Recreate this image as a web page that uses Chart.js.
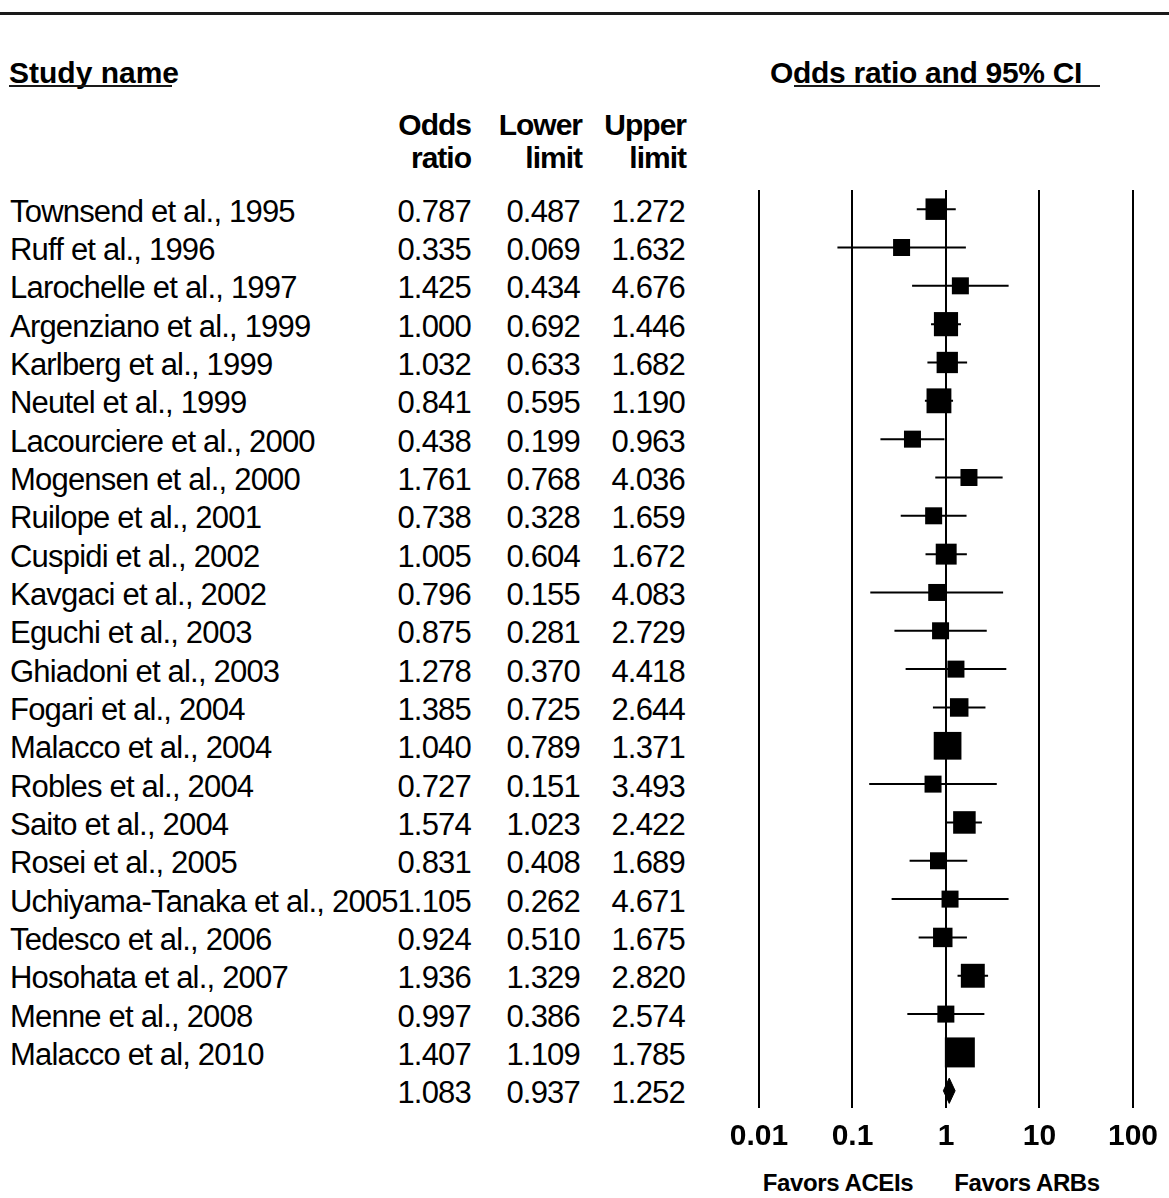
<!DOCTYPE html>
<html>
<head>
<meta charset="utf-8">
<title>Forest plot: ACEIs vs ARBs</title>
<script src="https://cdn.jsdelivr.net/npm/chart.js@4.4.1/dist/chart.umd.min.js"></script>
<style>
    html, body { margin: 0; padding: 0; background: #fff; }
    body { width: 1169px; height: 1198px; position: relative; overflow: hidden;
           font-family: "Liberation Sans", Arial, sans-serif; color: #000; }
    #plot { position: absolute; left: 0; top: 0; }
    .rule { position: absolute; background: #1a1a1a; }
    .txt { position: absolute; white-space: nowrap; }
    .head { font-weight: bold; font-size: 30px; line-height: 33px; }
    .cell { position: absolute; width: 110px; text-align: right; }
    .row { position: absolute; left: 0; width: 720px; height: 38px;
           font-size: 31px; line-height: 38px; letter-spacing: -0.8px; }
    .row .name { position: absolute; left: 10px; white-space: nowrap; }
    .favor { font-weight: bold; font-size: 24px; line-height: 28px; letter-spacing: -0.4px;
             width: 200px; text-align: center; }
</style>
</head>
<body>
<div class="rule" style="left:0; top:12px; width:1169px; height:3px;"></div>

<div class="txt head" style="left:9px; top:56px;">Study name</div>
<div class="rule" style="left:9px; top:85px; width:163px; height:2px;"></div>
<div class="txt head" style="left:770px; top:56px; letter-spacing:-0.3px;">Odds ratio and 95% CI</div>
<div class="rule" style="left:794px; top:85px; width:306px; height:2px;"></div>

<div class="txt head" style="left:0; top:108px; width:720px; height:70px; letter-spacing:-1px;">
    <div class="cell" style="left:361px;">Odds<br>ratio</div>
    <div class="cell" style="left:472px;">Lower<br>limit</div>
    <div class="cell" style="left:576px;">Upper<br>limit</div>
</div>

<div id="rows"></div>

<div class="txt favor" style="left:738px; top:1169px;">Favors ACEIs</div>
<div class="txt favor" style="left:927px; top:1169px;">Favors ARBs</div>

<canvas id="plot" width="1169" height="1198"></canvas>

<script>
// Forest plot data

const studies = [
    'Townsend et al., 1995', 'Ruff et al., 1996', 'Larochelle et al., 1997',
    'Argenziano et al., 1999', 'Karlberg et al., 1999', 'Neutel et al., 1999',
    'Lacourciere et al., 2000', 'Mogensen et al., 2000', 'Ruilope et al., 2001',
    'Cuspidi et al., 2002', 'Kavgaci et al., 2002', 'Eguchi et al., 2003',
    'Ghiadoni et al., 2003', 'Fogari et al., 2004', 'Malacco et al., 2004',
    'Robles et al., 2004', 'Saito et al., 2004', 'Rosei et al., 2005',
    'Uchiyama-Tanaka et al., 2005', 'Tedesco et al., 2006', 'Hosohata et al., 2007',
    'Menne et al., 2008', 'Malacco et al, 2010'
];
const oddsRatio = [0.787, 0.335, 1.425, 1.000, 1.032, 0.841, 0.438, 1.761, 0.738, 1.005, 0.796, 0.875,
                   1.278, 1.385, 1.040, 0.727, 1.574, 0.831, 1.105, 0.924, 1.936, 0.997, 1.407];
const lowerLimit = [0.487, 0.069, 0.434, 0.692, 0.633, 0.595, 0.199, 0.768, 0.328, 0.604, 0.155, 0.281,
                    0.370, 0.725, 0.789, 0.151, 1.023, 0.408, 0.262, 0.510, 1.329, 0.386, 1.109];
const upperLimit = [1.272, 1.632, 4.676, 1.446, 1.682, 1.190, 0.963, 4.036, 1.659, 1.672, 4.083, 2.729,
                    4.418, 2.644, 1.371, 3.493, 2.422, 1.689, 4.671, 1.675, 2.820, 2.574, 1.785];
// relative weights
const weights = [16.7, 1.5, 2.7, 28.3, 16.1, 32.0, 6.2, 5.6, 5.9, 14.8, 1.4, 3.0,
                 2.5, 9.2, 50.3, 1.6, 20.7, 7.6, 1.9, 10.9, 27.1, 4.3, 67.8];

const summaryOR = 1.083;
const summaryLower = 0.937;
const summaryUpper = 1.252;

const tickValues = [0.01, 0.1, 1, 10, 100];
const tickLabels = ['0.01', '0.1', '1', '10', '100'];

// build the text table
const rowsDiv = document.getElementById('rows');
const rowEls = [];

function addRow(name, or, lo, hi) {
    const row = document.createElement('div');
    row.className = 'row';
    row.innerHTML =
        `<span class="name">${name}</span>` +
        `<span class="cell" style="left:361px;">${or.toFixed(3)}</span>` +
        `<span class="cell" style="left:470px;">${lo.toFixed(3)}</span>` +
        `<span class="cell" style="left:575px;">${hi.toFixed(3)}</span>`;
    rowsDiv.appendChild(row);
    rowEls.push(row);
}

studies.forEach((s, i) => addRow(s, oddsRatio[i], lowerLimit[i], upperLimit[i]));
addRow('', summaryOR, summaryLower, summaryUpper);

// CI segments, broken with null points
const ciData = [];
studies.forEach((s, i) => {
    ciData.push({ x: lowerLimit[i], y: i });
    ciData.push({ x: upperLimit[i], y: i });
    ciData.push({ x: upperLimit[i], y: null });
});

const boxData = studies.map((s, i) => ({ x: oddsRatio[i], y: i }));
const boxRadius = weights.map(w => {
    const side = 17 + 13 * Math.pow(Math.max(w - 8, 0) / 60, 0.55);
    return side / (2 * Math.SQRT1_2);
});

const sumRow = studies.length;
const diamondData = [
    { x: summaryLower, y: sumRow },
    { x: summaryOR, y: sumRow - 0.33 },
    { x: summaryUpper, y: sumRow },
    { x: summaryOR, y: sumRow + 0.33 },
    { x: summaryLower, y: sumRow }
];

// keep table rows lined up with the plot rows
const alignRows = {
    id: 'alignRows',
    afterRender(chart) {
        const y = chart.scales.y;
        rowEls.forEach((el, i) => {
            el.style.top = (y.getPixelForValue(i) - 16.5) + 'px';
        });
    }
};

new Chart(document.getElementById('plot'), {
    type: 'scatter',
    data: {
        datasets: [
            {
                type: 'line',
                label: 'CI',
                data: ciData,
                showLine: true,
                spanGaps: false,
                borderColor: '#000',
                borderWidth: 2,
                pointRadius: 0,
                tension: 0
            },
            {
                type: 'scatter',
                label: 'Odds ratio',
                data: boxData,
                pointStyle: 'rect',
                pointRadius: boxRadius,
                pointBackgroundColor: '#000',
                pointBorderWidth: 0
            },
            {
                type: 'line',
                label: 'Summary',
                data: diamondData,
                showLine: true,
                fill: 'shape',
                backgroundColor: '#000',
                borderColor: '#000',
                borderWidth: 1,
                pointRadius: 0,
                tension: 0
            }
        ]
    },
    options: {
        responsive: false,
        animation: false,
        events: [],
        layout: {
            padding: { left: 759, right: 36, top: 190, bottom: 32 }
        },
        plugins: {
            legend: { display: false },
            tooltip: { enabled: false }
        },
        scales: {
            x: {
                type: 'logarithmic',
                min: 0.01,
                max: 100,
                afterBuildTicks: (axis) => {
                    axis.ticks = tickValues.map(v => ({ value: v }));
                },
                grid: {
                    color: '#000',
                    lineWidth: 2,
                    drawTicks: false
                },
                border: { display: false },
                ticks: {
                    color: '#000',
                    padding: 11,
                    maxRotation: 0,
                    autoSkip: false,
                    font: { family: '"Liberation Sans", Arial, sans-serif', size: 30, weight: 'bold' },
                    callback: (value, index) => tickLabels[index]
                }
            },
            y: {
                type: 'linear',
                display: false,
                reverse: true,
                min: -0.5,
                max: 23.45
            }
        }
    },
    plugins: [alignRows]
});
</script>
</body>
</html>
